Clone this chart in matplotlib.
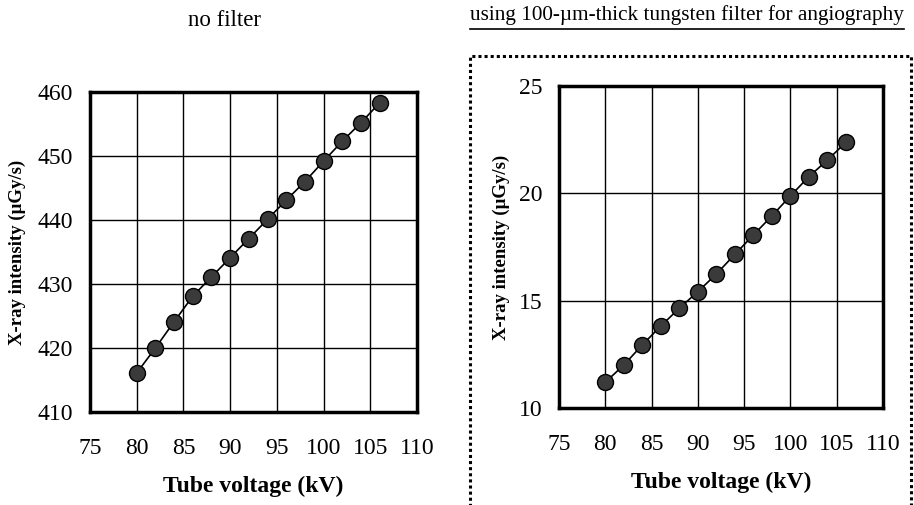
"""X-ray intensity versus tube voltage, with and without tungsten filter."""

import matplotlib

matplotlib.use("Agg")
import matplotlib.pyplot as plt
from matplotlib.lines import Line2D
from matplotlib.patches import Rectangle

plt.rcParams["font.family"] = ["Liberation Serif", "DejaVu Serif"]

# data
voltage_kv = [80, 82, 84, 86, 88, 90, 92, 94, 96, 98, 100, 102, 104, 106]
intensity_no_filter = [416.1, 420.0, 424.1, 428.1, 431.1, 434.1, 437.1,
                       440.1, 443.1, 446.0, 449.2, 452.3, 455.2, 458.3]
intensity_tungsten = [11.2, 12.0, 12.94, 13.82, 14.65, 15.42, 16.24,
                      17.16, 18.06, 18.95, 19.88, 20.78, 21.55, 22.38]

x_ticks = [75, 80, 85, 90, 95, 100, 105, 110]
y_ticks_left = [410, 420, 430, 440, 450, 460]
y_ticks_right = [10, 15, 20, 25]

titles = ["no filter", "using 100-\u00b5m-thick tungsten filter for angiography"]
x_label = "Tube voltage (kV)"
y_label = "X-ray intensity (\u00b5Gy/s)"

W, H = 914, 505
fig = plt.figure(figsize=(W / 100, H / 100), dpi=100)


def px_axes(left, top, right, bottom):
    return fig.add_axes([left / W, 1 - bottom / H, (right - left) / W, (bottom - top) / H])


def style_panel(ax, y_vals, y_ticks, ylabel_x):
    ax.plot(voltage_kv, y_vals, color="black", linewidth=1.2, zorder=3,
            marker="o", markersize=11.5, markerfacecolor="#3a3a3a",
            markeredgecolor="black", markeredgewidth=1.0)
    ax.set_xlim(x_ticks[0], x_ticks[-1])
    ax.set_ylim(y_ticks[0], y_ticks[-1])
    ax.set_xticks(x_ticks)
    ax.set_yticks(y_ticks)
    ax.grid(True, color="black", linewidth=1.0)
    ax.set_axisbelow(True)
    for s in ax.spines.values():
        s.set_linewidth(2.5)
        s.set_zorder(5)
    ax.tick_params(axis="both", length=0, labelsize=17)
    ax.tick_params(axis="x", pad=19)
    ax.tick_params(axis="y", pad=12)
    ax.set_xlabel(x_label, fontsize=17, fontweight="bold", labelpad=12)
    ax.set_ylabel(y_label, fontsize=13.5, fontweight="bold")
    ax.yaxis.set_label_coords(ylabel_x, 0.5)


ax1 = px_axes(90, 92, 417, 412)
style_panel(ax1, intensity_no_filter, y_ticks_left, -0.195)

ax2 = px_axes(559, 86, 883, 408)
style_panel(ax2, intensity_tungsten, y_ticks_right, -0.15)

fig.text(225 / W, 1 - 20 / H, titles[0], ha="center", va="center", fontsize=16.5)
t2 = fig.text(687 / W, 1 - 15 / H, titles[1], ha="center", va="center", fontsize=15.3)

# underline the right title
fig.canvas.draw()
bb = t2.get_window_extent().transformed(fig.transFigure.inverted())
fig.add_artist(Line2D([bb.x0, bb.x1], [1 - 29 / H, 1 - 29 / H],
                      transform=fig.transFigure, color="black", linewidth=1.2))

# dotted frame around the filtered panel
fig.add_artist(Rectangle((470 / W, -0.01), (911 - 470) / W, 1.01 - 56 / H,
                         transform=fig.transFigure, fill=False,
                         linestyle=(0, (1, 1)), linewidth=2.2, edgecolor="black"))

fig.savefig("out.png", dpi=100, facecolor="white")
plt.close(fig)
